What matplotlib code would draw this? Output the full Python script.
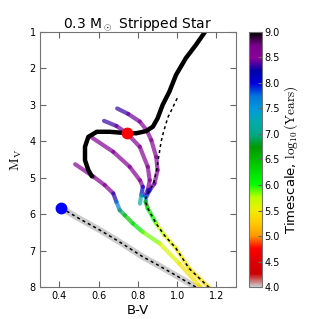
import matplotlib
matplotlib.use("Agg")
import matplotlib.pyplot as plt
from matplotlib.collections import LineCollection
from matplotlib.colors import Normalize
import numpy as np

plt.rcParams["mathtext.fontset"] = "cm"
plt.rcParams["font.family"] = "DejaVu Sans"

# main evolutionary track (black, old ages)
main_bv = [1.16, 1.143, 1.095, 1.044, 0.994, 0.96, 0.926, 0.90, 0.876, 0.842,
           0.792, 0.745, 0.657, 0.59, 0.547, 0.53, 0.53, 0.547, 0.565]
main_mv = [0.9, 0.99, 1.36, 1.72, 2.18, 2.64, 3.00, 3.37, 3.60, 3.72,
           3.78, 3.78, 3.74, 3.74, 3.88, 4.15, 4.52, 4.79, 4.96]

# colored tracks: (B-V, M_V, log10 timescale)
arc1_bv = [0.694, 0.75, 0.809, 0.845, 0.868, 0.893, 0.90, 0.884, 0.86, 0.842,
           0.839, 0.85, 0.893, 0.935, 0.994, 1.061, 1.16, 1.18]
arc1_mv = [3.10, 3.25, 3.46, 3.70, 3.97, 4.43, 4.79, 5.16, 5.34, 5.52,
           5.66, 5.84, 6.26, 6.58, 6.94, 7.49, 8.0, 8.1]
arc1_t = [8.3, 8.4, 8.5, 8.6, 8.6, 8.6, 8.6, 8.6, 8.2, 7.8,
          7.0, 6.3, 5.9, 5.6, 5.5, 5.4, 5.3, 5.3]

arc2_bv = [0.627, 0.69, 0.741, 0.809, 0.85, 0.86, 0.85, 0.835]
arc2_mv = [3.44, 3.58, 3.77, 4.15, 4.70, 5.07, 5.34, 5.50]
arc2_t = [8.3, 8.4, 8.5, 8.6, 8.6, 8.6, 8.5, 8.2]

arc3_bv = [0.56, 0.674, 0.758, 0.81, 0.825, 0.817, 0.81]
arc3_mv = [3.88, 4.29, 4.70, 5.07, 5.25, 5.48, 5.71]
arc3_t = [8.6, 8.6, 8.6, 8.6, 8.4, 7.7, 6.6]

arc4_bv = [0.48, 0.573, 0.63, 0.674, 0.69, 0.707, 0.733, 0.775, 0.825,
           0.91, 1.01, 1.11, 1.14]
arc4_mv = [4.63, 4.97, 5.20, 5.43, 5.66, 5.89, 6.03, 6.26, 6.49,
           6.80, 7.35, 7.95, 8.10]
arc4_t = [8.6, 8.6, 8.6, 8.5, 8.1, 7.3, 6.5, 6.3, 6.0,
          5.7, 5.5, 5.35, 5.3]

# model track (dashed)
model_bv = [1.0, 0.975, 0.952, 0.93, 0.918, 0.905, 0.895, 0.88, 0.855, 0.84,
            0.84, 0.85, 0.893, 0.935, 0.994, 1.061, 1.16, 1.18]
model_mv = [2.82, 3.10, 3.35, 3.75, 4.01, 4.45, 4.80, 5.15, 5.40, 5.55,
            5.68, 5.84, 6.26, 6.58, 6.94, 7.49, 8.0, 8.1]

# stripped star track (grey, young)
strip_bv = [0.41, 0.50, 0.607, 0.70, 0.825, 0.90, 1.00, 1.095, 1.12]
strip_mv = [5.83, 6.12, 6.44, 6.74, 7.17, 7.39, 7.70, 8.0, 8.08]

red_dot = (0.745, 3.78)
blue_dot = (0.41, 5.83)

cmap = plt.get_cmap("nipy_spectral_r")
norm = Normalize(vmin=4.0, vmax=9.0)

fig = plt.figure(figsize=(3.19, 3.19), dpi=100)
ax = fig.add_axes([0.125, 0.10, 0.615, 0.80])
cax = fig.add_axes([0.782, 0.10, 0.040, 0.80])


def colored_track(bv, mv, t):
    pts = np.column_stack([bv, mv])
    segs = np.stack([pts[:-1], pts[1:]], axis=1)
    tt = np.asarray(t)
    lc = LineCollection(segs, cmap=cmap, norm=norm, linewidths=3.0,
                        capstyle="round", joinstyle="round", alpha=0.7)
    lc.set_array((tt[:-1] + tt[1:]) / 2)
    ax.add_collection(lc)
    return lc


ax.plot(strip_bv, strip_mv, color=cmap(0.0), lw=4.5, solid_capstyle="round")
ax.plot(strip_bv, strip_mv, color="k", lw=1.1, ls=(0, (2, 2)))

lc = None
for bv, mv, t in [(arc4_bv, arc4_mv, arc4_t), (arc3_bv, arc3_mv, arc3_t),
                  (arc2_bv, arc2_mv, arc2_t), (arc1_bv, arc1_mv, arc1_t)]:
    lc = colored_track(bv, mv, t)

ax.plot(model_bv, model_mv, color="k", lw=1.1, ls=(0, (2, 2)))
ax.plot(main_bv, main_mv, color="k", lw=3.2, solid_capstyle="round",
        solid_joinstyle="round")
ax.plot(*red_dot, "o", color="red", ms=7.5, mec="red")
ax.plot(*blue_dot, "o", color="blue", ms=7.5, mec="blue")

ax.set_xlim(0.3, 1.3)
ax.set_ylim(8, 1)
ax.set_xticks([0.4, 0.6, 0.8, 1.0, 1.2])
ax.set_yticks([1, 2, 3, 4, 5, 6, 7, 8])
ax.tick_params(direction="in", top=True, right=True, labelsize=7, length=4,
               color="0.4", pad=3)
for s in ax.spines.values():
    s.set_color("0.45")
ax.set_xlabel("B-V", fontsize=9.5, labelpad=2)
ax.set_ylabel(r"$\mathrm{M_V}$", fontsize=10, labelpad=4)
ax.set_title(r"0.3 M$_\odot$ Stripped Star", fontsize=10, pad=3)

cb = fig.colorbar(lc, cax=cax)
cb.solids.set_alpha(1)
cb.set_ticks(np.arange(4.0, 9.01, 0.5))
cb.ax.set_yticklabels(["%.1f" % v for v in np.arange(4.0, 9.01, 0.5)])
cb.ax.tick_params(direction="in", labelsize=7, length=3, color="0.4", pad=1.5)
cb.outline.set_edgecolor("0.45")
cb.set_label(r"Timescale, $\log_{10}(\mathrm{Years})$", fontsize=9.5, labelpad=2)

fig.savefig("out.png", dpi=100)
